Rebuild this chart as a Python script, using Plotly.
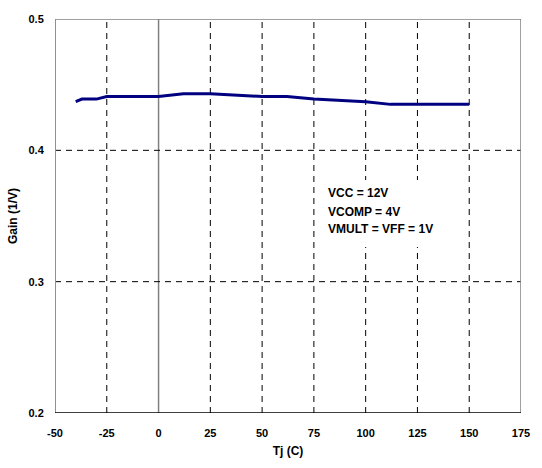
import plotly.graph_objects as go

tj = [-40, -37, -30, -25, 0, 12, 25, 50, 62, 75, 100, 112, 125, 150]
gain = [0.437, 0.439, 0.439, 0.441, 0.441, 0.443, 0.443, 0.441, 0.441, 0.439, 0.437, 0.435, 0.435, 0.435]
x_ticks = [-50, -25, 0, 25, 50, 75, 100, 125, 150, 175]
y_ticks = [0.2, 0.3, 0.4, 0.5]
note_lines = ["VCC = 12V", "VCOMP = 4V", "VMULT = VFF = 1V"]
note_y = [0.3675, 0.353, 0.340]
note_x = 81

font = "Liberation Sans, Arial, sans-serif"

fig = go.Figure()
fig.add_trace(go.Scatter(x=tj, y=gain, mode="lines",
                         line=dict(color="#000080", width=3), showlegend=False))

dash = "6px,5px"
for xv in x_ticks:
    if xv in (-50, 175):
        continue
    if xv == 0:
        fig.add_shape(type="line", x0=0, x1=0, y0=0.2, y1=0.5, xref="x", yref="y",
                      line=dict(color="#808080", width=1.5), layer="below")
    else:
        fig.add_shape(type="line", x0=xv, x1=xv, y0=0.2, y1=0.5, xref="x", yref="y",
                      line=dict(color="black", width=1, dash=dash), layer="below")
for yv in y_ticks[1:-1]:
    fig.add_shape(type="line", x0=-50, x1=175, y0=yv, y1=yv, xref="x", yref="y",
                  line=dict(color="black", width=1, dash=dash), layer="below")
fig.add_shape(type="line", x0=-50, x1=175, y0=0.5, y1=0.5, line=dict(color="#808080", width=1.5))
fig.add_shape(type="line", x0=175, x1=175, y0=0.2, y1=0.5, line=dict(color="#808080", width=1.5))
fig.add_shape(type="line", x0=-50, x1=-50, y0=0.2, y1=0.5, line=dict(color="#909090", width=2))
fig.add_shape(type="line", x0=-50, x1=175, y0=0.2, y1=0.2, line=dict(color="black", width=1.5))

# white text box behind the notes
fig.add_shape(type="rect", x0=note_x - 1, x1=134, y0=0.3264, y1=0.3774, xref="x", yref="y",
              fillcolor="white", line=dict(width=0), layer="below")

for txt, yv in zip(note_lines, note_y):
    fig.add_annotation(x=note_x, y=yv, xref="x", yref="y", xanchor="left", yanchor="middle",
                       text="<b>%s</b>" % txt, showarrow=False,
                       font=dict(family=font, size=12, color="black"))

fig.update_xaxes(range=[-50, 175], tickvals=x_ticks, ticktext=[str(v) for v in x_ticks],
                 showgrid=False, zeroline=False, showline=False,
                 ticks="outside", ticklen=10, tickcolor="rgba(0,0,0,0)",
                 title=dict(text="<b>Tj (C)</b>", font=dict(family=font, size=12), standoff=8),
                 tickfont=dict(family=font, size=11, color="black", weight="bold"))
fig.update_yaxes(range=[0.2, 0.5], tickvals=y_ticks, ticktext=["0.2", "0.3", "0.4", "0.5"],
                 showgrid=False, zeroline=False, showline=False,
                 ticks="outside", ticklen=8, tickcolor="rgba(0,0,0,0)",
                 title=dict(text="<b>Gain (1/V)</b>", font=dict(family=font, size=12), standoff=8),
                 tickfont=dict(family=font, size=11, color="black", weight="bold"))
fig.update_layout(width=542, height=468, margin=dict(l=53, r=14, t=19, b=55),
                  plot_bgcolor="white", paper_bgcolor="white",
                  font=dict(family=font, color="black"))
fig.write_html("out.html", config={"displayModeBar": False},
               post_script="document.body.style.margin='0';document.body.style.overflow='hidden';")
